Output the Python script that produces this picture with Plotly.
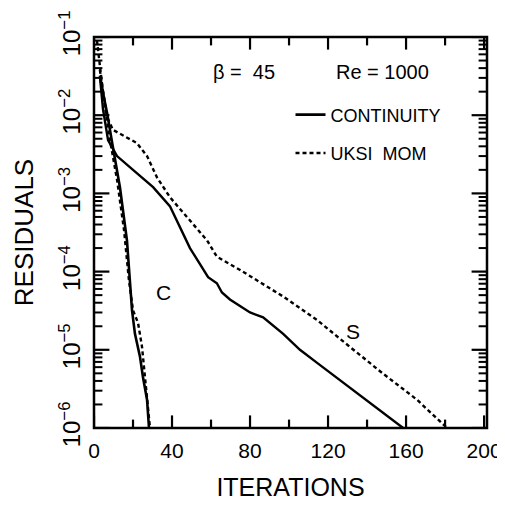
import plotly.graph_objects as go

# ---- data ----
iter_cont_S = [3, 4.6, 7.2, 11.8, 20, 30.3, 39, 45.6, 49.2, 58.5, 63, 65.6, 69.7, 80, 86.7, 97, 105.6, 114.4, 131, 158.5]
res_cont_S = [3.2e-2, 1.2e-2, 4.8e-3, 3.0e-3, 2.0e-3, 1.2e-3, 6.8e-4, 3.1e-4, 2.0e-4, 8.5e-5, 7.1e-5, 5.4e-5, 4.4e-5,
              3.0e-5, 2.6e-5, 1.6e-5, 1.0e-5, 6.8e-6, 3.3e-6, 1.0e-6]

iter_mom_S = [3, 6.7, 9.7, 16.9, 22, 27.2, 32.3, 39, 47.7, 58, 63, 74.9, 97, 114.4, 131, 148, 165.6, 181]
res_mom_S = [3.8e-2, 9.5e-3, 6.5e-3, 5.2e-3, 4.4e-3, 3.0e-3, 1.6e-3, 8.9e-4, 5.0e-4, 2.5e-4, 1.55e-4, 1.05e-4,
             4.8e-5, 2.4e-5, 1.1e-5, 5.0e-6, 2.3e-6, 1.0e-6]

iter_cont_C = [3, 6.7, 9.7, 13.3, 16.9, 18.5, 19.5, 21, 23.6, 25.1, 27.2, 28.2]
res_cont_C = [3.1e-2, 1.07e-2, 3.9e-3, 1.2e-3, 2.5e-4, 5.8e-5, 3.2e-5, 1.6e-5, 8.1e-6, 4.5e-6, 2.3e-6, 1.0e-6]

iter_mom_C = [1.5, 3, 5.1, 8.2, 11.8, 15.4, 17.9, 20, 22.6, 24.6, 25.6, 27.2, 28.7]
res_mom_C = [9.1e-2, 4.4e-2, 1.55e-2, 4.8e-3, 1.5e-3, 3.4e-4, 7.8e-5, 3.2e-5, 2.2e-5, 1.1e-5, 6.0e-6, 2.6e-6, 1.0e-6]

x_range = [0, 201.5]
x_tick_vals = [0, 40, 80, 120, 160, 200]
x_tick_text = ["0", "40", "80", "120", "160", "200"]
x_minor_vals = [20, 60, 100, 140, 180]
y_exponents = [-6, -5, -4, -3, -2, -1]
y_tick_vals = [10.0 ** e for e in y_exponents]
y_tick_text = ["10<sup>\u2212%d</sup>" % (-e) for e in y_exponents]
y_minor_vals = [m * 10.0 ** e for e in y_exponents[:-1] for m in range(2, 10)]

legend_names = ["CONTINUITY", "UKSI  MOM"]

FONT = "Liberation Sans, Arial, sans-serif"
DASH = "4px,3px"

fig = go.Figure()
fig.add_trace(go.Scatter(x=iter_cont_C, y=res_cont_C, mode="lines", name=legend_names[0], legendgroup="a",
                         line=dict(color="black", width=2.6), showlegend=True))
fig.add_trace(go.Scatter(x=iter_mom_C, y=res_mom_C, mode="lines", name=legend_names[1], legendgroup="b",
                         line=dict(color="black", width=2.4, dash=DASH), showlegend=True))
fig.add_trace(go.Scatter(x=iter_cont_S, y=res_cont_S, mode="lines", name=legend_names[0], legendgroup="a",
                         line=dict(color="black", width=2.4), showlegend=False))
fig.add_trace(go.Scatter(x=iter_mom_S, y=res_mom_S, mode="lines", name=legend_names[1], legendgroup="b",
                         line=dict(color="black", width=2.4, dash=DASH), showlegend=False))


# inward tick marks on all four sides (markers centred on the frame, outer half clipped away)
def tick_marks(xs, ys, symbol, length, width):
    fig.add_trace(go.Scatter(x=xs, y=ys, mode="markers", showlegend=False, hoverinfo="skip",
                             cliponaxis=True,
                             marker=dict(symbol=symbol, size=2 * length, color="black",
                                         line=dict(color="black", width=width))))


y_bottom, y_top = y_tick_vals[0], y_tick_vals[-1]
for y_edge in (y_bottom, y_top):
    tick_marks(x_tick_vals, [y_edge] * len(x_tick_vals), "line-ns-open", 9, 2.2)
    tick_marks(x_minor_vals, [y_edge] * len(x_minor_vals), "line-ns-open", 6, 2.2)
for x_edge in x_range:
    tick_marks([x_edge] * len(y_tick_vals), y_tick_vals, "line-ew-open", 11, 2.2)
    tick_marks([x_edge] * len(y_minor_vals), y_minor_vals, "line-ew-open", 6, 2.0)

# the page body has an 8px margin, so the figure is sized to fit inside the window
fig.update_layout(
    width=497, height=500,
    margin=dict(l=86, r=18, t=29, b=80),
    paper_bgcolor="white", plot_bgcolor="white",
    font=dict(family=FONT, color="black", size=18),
    legend=dict(x=0.50, y=0.848, xanchor="left", yanchor="top", bgcolor="rgba(0,0,0,0)",
                font=dict(size=18, family=FONT), tracegroupgap=12, traceorder="grouped"),
    shapes=[dict(type="rect", xref="x domain", yref="y domain", x0=0, x1=1, y0=0, y1=1,
                 line=dict(color="black", width=2.5), fillcolor="rgba(0,0,0,0)", layer="above")],
    annotations=[
        dict(text="\u03b2 =  45", x=0.382, y=0.91, xref="paper", yref="paper", xanchor="center",
             yanchor="middle", showarrow=False, font=dict(size=20, family=FONT)),
        dict(text="Re = 1000", x=0.735, y=0.91, xref="paper", yref="paper", xanchor="center",
             yanchor="middle", showarrow=False, font=dict(size=20, family=FONT)),
        dict(text="C", x=35.4, y=-4.27, xref="x", yref="y", showarrow=False,
             font=dict(size=21, family=FONT)),
        dict(text="S", x=132.8, y=-4.76, xref="x", yref="y", showarrow=False,
             font=dict(size=21, family=FONT)),
    ],
)

fig.update_xaxes(
    range=x_range, tickmode="array", tickvals=x_tick_vals, ticktext=x_tick_text,
    ticks="", showline=False,
    showgrid=False, zeroline=False, automargin=False,
    ticklabelstandoff=8,
    tickfont=dict(size=21, family=FONT),
    title=dict(text="ITERATIONS", font=dict(size=25, family=FONT), standoff=17),
)
fig.update_yaxes(
    type="log", range=[y_exponents[0], y_exponents[-1]], tickmode="array",
    tickvals=y_tick_vals, ticktext=y_tick_text,
    ticks="", showline=False,
    showgrid=False, zeroline=False, automargin=False,
    tickangle=-90, ticklabelstandoff=8,
    tickfont=dict(size=24, family=FONT),
    title=dict(text="RESIDUALS", font=dict(size=26, family=FONT), standoff=14),
)

fig.write_html("out.html")
